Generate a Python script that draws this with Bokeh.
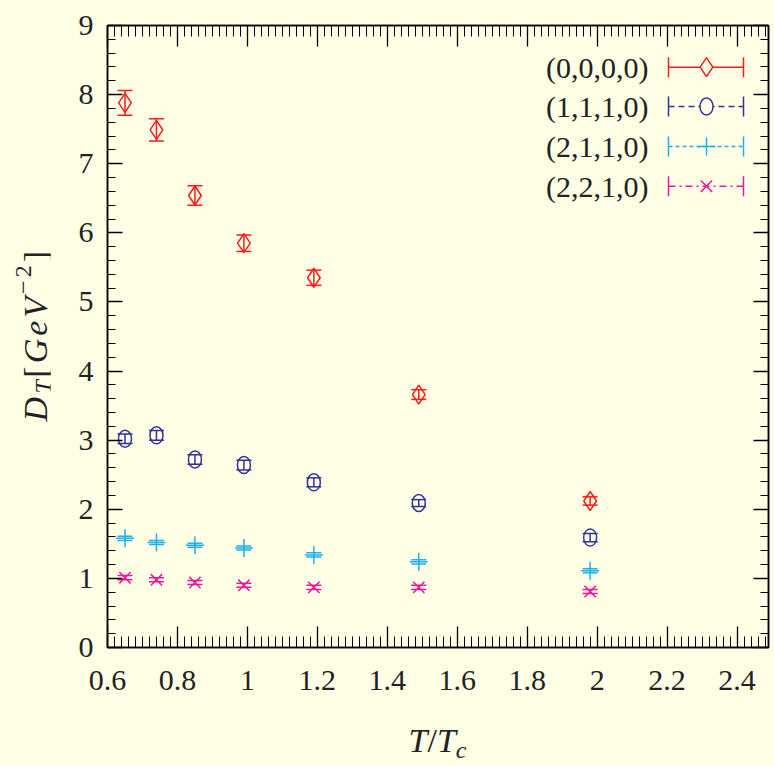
from bokeh.plotting import figure
from bokeh.models import (ColumnDataSource, Whisker, TeeHead, FixedTicker,
                          LinearAxis, Label, Range1d, Div)
from bokeh.layouts import row, column
from bokeh.embed import file_html
from bokeh.resources import INLINE

# ---------------- data ----------------
T_over_Tc = [0.65, 0.74, 0.85, 0.99, 1.19, 1.49, 1.98]

D_0000 = [7.88, 7.49, 6.54, 5.85, 5.35, 3.66, 2.12]
E_0000 = [0.18, 0.16, 0.14, 0.12, 0.11, 0.07, 0.06]

D_1110 = [3.02, 3.07, 2.72, 2.64, 2.39, 2.09, 1.59]
E_1110 = [0.07, 0.07, 0.07, 0.07, 0.065, 0.05, 0.06]

D_2110 = [1.58, 1.52, 1.48, 1.44, 1.34, 1.24, 1.11]
E_2110 = [0.03, 0.03, 0.03, 0.03, 0.03, 0.03, 0.03]

D_2210 = [1.01, 0.98, 0.94, 0.90, 0.87, 0.87, 0.81]
E_2210 = [0.03, 0.03, 0.03, 0.03, 0.03, 0.03, 0.03]

series_labels = ["(0,0,0,0)", "(1,1,1,0)", "(2,1,1,0)", "(2,2,1,0)"]

x_ticks = [0.6, 0.8, 1.0, 1.2, 1.4, 1.6, 1.8, 2.0, 2.2, 2.4]
x_tick_labels = ["0.6", "0.8", "1", "1.2", "1.4", "1.6", "1.8", "2", "2.2", "2.4"]
y_ticks = [0, 1, 2, 3, 4, 5, 6, 7, 8, 9]
y_tick_labels = ["0", "1", "2", "3", "4", "5", "6", "7", "8", "9"]

# ---------------- style ----------------
BG = "#ffffe5"
RED = "#ff1a1a"
BLUE = "#32329a"
CYAN = "#1fb0ee"
MAGENTA = "#f0189a"
TXT = "#222222"
SERIF = "Liberation Serif"

X0, X1 = 0.6, 2.49
Y0, Y1 = 0.0, 9.0
# frame geometry in page pixels
FL, FR, FT, FB = 107, 768, 25, 647
YDIV_W = 50
P_BOTTOM = 66
P_H = FT + (FB - FT) + P_BOTTOM
XDIV_H = 766 - P_H


def dx(px):
    return X0 + (px - FL) / (FR - FL) * (X1 - X0)


def dy(py):
    return Y0 + (FB - py) / (FB - FT) * (Y1 - Y0)


p = figure(frame_width=FR - FL, frame_height=FB - FT,
           x_range=Range1d(X0, X1), y_range=Range1d(Y0, Y1),
           output_backend="svg", toolbar_location=None,
           min_border_left=FL - YDIV_W, min_border_right=774 - FR,
           min_border_top=FT, min_border_bottom=P_BOTTOM,
           background_fill_color=BG, border_fill_color=BG)
p.xgrid.visible = False
p.ygrid.visible = False
p.outline_line_color = "black"
p.outline_line_width = 1.5

x_minor = [round(X0 + 0.02 * i, 2) for i in range(95)]
y_minor = [round(0.2 * i, 1) for i in range(46)]
xticker = FixedTicker(ticks=x_ticks, minor_ticks=x_minor)
yticker = FixedTicker(ticks=y_ticks, minor_ticks=y_minor)

p.add_layout(LinearAxis(ticker=xticker), "above")
p.add_layout(LinearAxis(ticker=yticker), "right")


def style_axis(ax, ticker, major_in, minor_in, labels, overrides):
    ax.ticker = ticker
    ax.major_tick_in = major_in
    ax.major_tick_out = 0
    ax.minor_tick_in = minor_in
    ax.minor_tick_out = 0
    ax.axis_line_color = "black"
    ax.axis_line_width = 1.5
    ax.major_tick_line_color = "black"
    ax.major_tick_line_width = 1.3
    ax.minor_tick_line_color = "black"
    ax.minor_tick_line_width = 1.0
    ax.axis_label = None
    ax.major_label_text_font = SERIF
    if labels:
        ax.major_label_overrides = overrides
        ax.major_label_text_font_size = "30px"
        ax.major_label_text_color = TXT
    else:
        ax.major_label_overrides = {k: "" for k in overrides}
        ax.major_label_text_font_size = "1px"
        ax.major_label_standoff = 0


xo = dict(zip(x_ticks, x_tick_labels))
yo = dict(zip(y_ticks, y_tick_labels))
for ax in p.below:
    style_axis(ax, xticker, 21, 11, True, xo)
    ax.major_label_standoff = 23
for ax in p.above:
    style_axis(ax, xticker, 21, 11, False, xo)
for ax in p.left:
    style_axis(ax, yticker, 15, 8, True, yo)
    ax.major_label_standoff = 14
for ax in p.right:
    style_axis(ax, yticker, 15, 8, False, yo)


# ---------------- error bars ----------------
def add_err(ys, es, color):
    src = ColumnDataSource(dict(base=T_over_Tc,
                                upper=[a + b for a, b in zip(ys, es)],
                                lower=[a - b for a, b in zip(ys, es)]))
    w = Whisker(source=src, base="base", upper="upper", lower="lower",
                dimension="height", line_color=color, line_width=1.5,
                upper_head=TeeHead(size=15, line_color=color, line_width=1.5),
                lower_head=TeeHead(size=15, line_color=color, line_width=1.5))
    p.add_layout(w)


add_err(D_0000, E_0000, RED)
add_err(D_1110, E_1110, BLUE)
add_err(D_2110, E_2110, CYAN)
add_err(D_2210, E_2210, MAGENTA)

# ---------------- markers ----------------
p.scatter(T_over_Tc, D_0000, marker="diamond", size=19, fill_color=None,
          line_color=RED, line_width=1.5)
p.ellipse(T_over_Tc, D_1110, width=13, height=17, width_units="screen",
          height_units="screen", fill_color=None, line_color=BLUE, line_width=1.5)
p.scatter(T_over_Tc, D_2110, marker="cross", size=18, line_color=CYAN, line_width=1.5)
p.scatter(T_over_Tc, D_2210, marker="x", size=16, line_color=MAGENTA, line_width=1.5)

# ---------------- legend (custom: label left, sample right) ----------------
LEG_ROWS = [66.7, 106.0, 146.0, 185.7]
LEG_XA, LEG_XB, LEG_XM, LEG_TX = 668, 743, 706, 648
CAP = 10
colors = [RED, BLUE, CYAN, MAGENTA]
dashes = ["solid", "6 4", "4 3", "7 4 2 4"]
for i, (lab, col, dash) in enumerate(zip(series_labels, colors, dashes)):
    py = LEG_ROWS[i]
    p.add_layout(Label(x=dx(LEG_TX), y=dy(py), text=lab, text_align="right",
                       text_baseline="middle", text_font=SERIF,
                       text_font_size="30px", text_color=TXT))
    p.segment(x0=[dx(LEG_XA)], y0=[dy(py)], x1=[dx(LEG_XB)], y1=[dy(py)],
              line_color=col, line_width=1.5, line_dash=dash)
    p.segment(x0=[dx(LEG_XA), dx(LEG_XB)], y0=[dy(py - CAP), dy(py - CAP)],
              x1=[dx(LEG_XA), dx(LEG_XB)], y1=[dy(py + CAP), dy(py + CAP)],
              line_color=col, line_width=1.5)

p.scatter([dx(LEG_XM)], [dy(LEG_ROWS[0])], marker="diamond", size=19,
          fill_color=BG, line_color=RED, line_width=1.5)
p.ellipse([dx(LEG_XM)], [dy(LEG_ROWS[1])], width=13, height=17, width_units="screen",
          height_units="screen", fill_color=BG, line_color=BLUE, line_width=1.5)
p.scatter([dx(LEG_XM)], [dy(LEG_ROWS[2])], marker="cross", size=18,
          line_color=CYAN, line_width=1.5)
p.scatter([dx(LEG_XM)], [dy(LEG_ROWS[3])], marker="x", size=16,
          line_color=MAGENTA, line_width=1.5)

# ---------------- axis titles (HTML text, math-like) ----------------
font_css = "font-family:'Liberation Serif',serif;color:%s;" % TXT
y_html = (
    '<div style="display:flex;align-items:center;justify-content:flex-start;'
    'box-sizing:border-box;padding-left:17px;width:%dpx;height:%dpx;background:%s;">'
    '<span style="writing-mode:vertical-rl;transform:rotate(180deg);white-space:nowrap;'
    'letter-spacing:3px;font-size:34px;line-height:38px;%s">'
    '<i>D</i><span style="font-size:24px;vertical-align:-7px;line-height:0;'
    'margin-right:2px"><i>T</i></span>'
    '[<i>GeV</i><span style="font-size:24px;vertical-align:13px;line-height:0">\u22122</span>]'
    '</span></div>' % (YDIV_W, 2 * 335, BG, font_css))
x_html = (
    '<div style="box-sizing:border-box;width:774px;height:%dpx;padding-left:%dpx;'
    'padding-top:8px;background:%s;">'
    '<div style="width:%dpx;text-align:center;white-space:nowrap;font-size:34px;'
    'line-height:40px;%s">'
    '<i>T</i>/<i>T</i><span style="font-size:24px;vertical-align:-6px;line-height:0">'
    '<i>c</i></span></div></div>' % (XDIV_H, FL, BG, FR - FL, font_css))

ydiv = Div(text=y_html, width=YDIV_W, height=P_H, margin=0,
           styles={"background-color": BG})
xdiv = Div(text=x_html, width=774, height=XDIV_H, margin=0,
           styles={"background-color": BG})

layout = column(row(ydiv, p, spacing=0), xdiv, spacing=0,
                styles={"background-color": BG})

open("out.html", "w").write(file_html(layout, INLINE))
